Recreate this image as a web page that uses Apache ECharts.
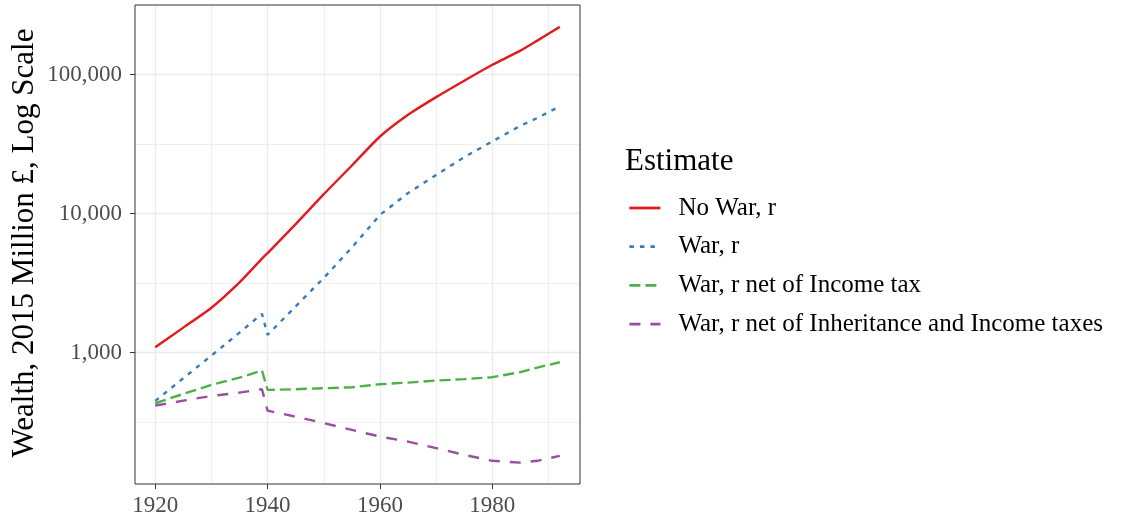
<!DOCTYPE html>
<html><head><meta charset="utf-8">
<script src="https://cdn.jsdelivr.net/npm/echarts@6/dist/echarts.min.js"></script>
<style>html,body{margin:0;padding:0;background:#fff}#c{width:1124px;height:521px}</style>
</head><body><div id="c"></div>
<script>
const years = [1920,1925,1930,1935,1939,1940,1945,1950,1955,1960,1965,1970,1975,1980,1985,1988,1992];
const noWarR = [1090,1510,2100,3200,4740,5200,8390,13800,22200,35900,51500,69000,90600,118000,149000,176000,221000];
const warR = [448,653,950,1390,1897,1340,2150,3440,5700,9790,14060,19000,25500,33100,42900,48800,59200];
const warNetIncome = [431,503,584,659,741,538,544,553,562,591,607,628,643,664,722,779,851];
const warNetInhIncome = [414,450,487,514,544,381,345,310,277,248,228,205,183,166,161,166,180];
const seriesNames = ['No War, r','War, r','War, r net of Income tax','War, r net of Inheritance and Income taxes'];
const xTicks = [1920,1940,1960,1980];
const xMinorTicks = [1930,1950,1970,1990];
const yTicks = [1000,10000,100000];
const yMinorTicks = [316.23,3162.3,31623];
const legendTitle = 'Estimate';
const yTitle = 'Wealth, 2015 Million £, Log Scale';

const FONT = 'Liberation Serif';
const colors = ['#E41A1C','#377EB8','#4DAF4A','#984EA3'];
const dashes = ['solid',[4.5,6],[11,5],[11,10]];
const smoothing = [0.2,0,0,0];
const allVals = [noWarR, warR, warNetIncome, warNetInhIncome];

const chart = echarts.init(document.getElementById('c'), null, {renderer:'canvas'});
const major = {color:'#EBEBEB', width:1.4, type:'solid'};
const minor = {color:'#EBEBEB', width:0.8, type:'solid'};
const gridLines = []
  .concat(xTicks.map(v => ({xAxis:v, lineStyle:major})))
  .concat(xMinorTicks.map(v => ({xAxis:v, lineStyle:minor})))
  .concat(yTicks.map(v => ({yAxis:v, lineStyle:major})))
  .concat(yMinorTicks.map(v => ({yAxis:v, lineStyle:minor})));

const series = [{
  type:'line', name:'__grid', data:[], silent:true, z:1,
  markLine:{silent:true, symbol:'none', z:1, animation:false, label:{show:false}, data:gridLines}
}].concat(allVals.map((vals,i) => ({
  type:'line', name:seriesNames[i], z:3,
  data: years.map((y,j) => [y, vals[j]]),
  showSymbol:false, symbol:'none', smooth:smoothing[i],
  lineStyle:{color:colors[i], width:2.4, type:dashes[i], cap:'butt'},
  itemStyle:{color:colors[i]},
  animation:false
})));

chart.setOption({
  animation:false,
  backgroundColor:'#fff',
  grid:{left:135, top:5, right:544, bottom:37, show:true, borderColor:'#333333', borderWidth:1, backgroundColor:'transparent', z:10},
  xAxis:{type:'value', min:1916.4, max:1995.6,
    axisLine:{show:false}, splitLine:{show:false},
    axisTick:{show:true, length:5, lineStyle:{color:'#333333', width:1}, customValues:xTicks},
    axisLabel:{customValues:xTicks, margin:10, fontFamily:FONT, fontSize:23, color:'#4D4D4D', formatter: v => String(Math.round(v))}
  },
  yAxis:{type:'log', logBase:10, min:113, max:317700,
    axisLine:{show:false}, splitLine:{show:false}, minorSplitLine:{show:false},
    axisTick:{show:true, length:5, lineStyle:{color:'#333333', width:1}, customValues:yTicks},
    axisLabel:{customValues:yTicks, margin:13, fontFamily:FONT, fontSize:23, color:'#4D4D4D',
      formatter: v => Math.round(v).toLocaleString('en-US')}
  },
  legend:{orient:'vertical', left:628, top:195.5, padding:0, itemWidth:31, itemHeight:26, itemGap:13.7,
    selectedMode:false, data:seriesNames,
    itemStyle:{opacity:0, borderWidth:0},
    lineStyle:{width:2.8},
    textStyle:{fontFamily:FONT, fontSize:25, color:'#000', padding:[0,0,0,13]}
  },
  graphic:[
    {type:'text', x:625, y:162, style:{text:legendTitle, font:'31px "Liberation Serif"', fill:'#000', textAlign:'left', textVerticalAlign:'middle'}},
    {type:'text', x:25, y:243, rotation:Math.PI/2, style:{text:yTitle, font:'31px "Liberation Serif"', fill:'#000', textAlign:'center', textVerticalAlign:'middle'}}
  ],
  series:series
});
</script></body></html>
